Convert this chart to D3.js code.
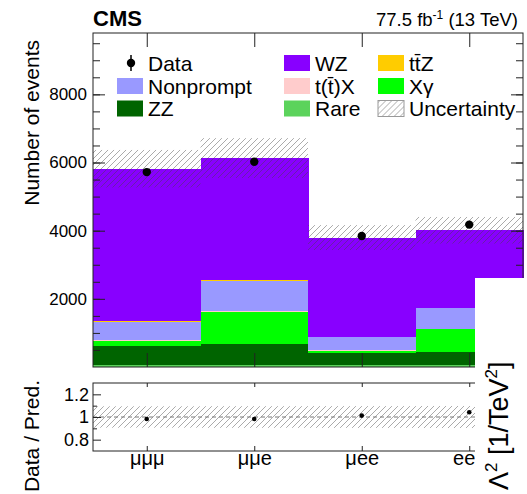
<!DOCTYPE html>
<html>
<head>
<meta charset="utf-8">
<script src="https://cdn.jsdelivr.net/npm/d3@7"></script>
<style>
  body { margin: 0; background: #fff; }
  svg text { font-family: "Liberation Sans", Helvetica, Arial, sans-serif; fill: #000; }
</style>
</head>
<body>
<script>
// channel categories
const channels = ["μμμ", "μμe", "μee", "eee"];

// expected yields per process, per channel (stacked bottom -> top)
const rare      = [50, 50, 50, 50];
const zz        = [574, 623, 375, 398];
const xgamma    = [130, 947, 45, 656];
const ttx       = [35, 20, 25, 16];
const nonprompt = [530, 878, 375, 599];
const ttz       = [35, 30, 20, 18];
const wz        = [4464, 3582, 2908, 2275];

// observed data and total uncertainty on the prediction
const dataObs  = [5719, 6023, 3845, 4178];
const totalUnc = [550, 585, 365, 390];

const yMajor = [2000, 4000, 6000, 8000];
const yMinor = d3.range(500, 10000, 500);
const rMajor = [0.8, 1, 1.2];
const rMinor = [0.9, 1.1];

// legend, read row by row
const legendNames = ["Data", "WZ", "tt\u0304Z", "Nonprompt", "t(t\u0304)X", "Xγ", "ZZ", "Rare", "Uncertainty"];

const colors = {
  "Rare": "#5cd35c", "ZZ": "#006400", "Xγ": "#00ff00", "t(t\u0304)X": "#ffcccc",
  "Nonprompt": "#9999ff", "tt\u0304Z": "#ffcc00", "WZ": "#8800ff"
};
const stackKeys = ["Rare", "ZZ", "Xγ", "t(t\u0304)X", "Nonprompt", "tt\u0304Z", "WZ"];
const series = [rare, zz, xgamma, ttx, nonprompt, ttz, wz];

const table = channels.map((c, i) => {
  const row = {channel: c};
  stackKeys.forEach((k, j) => row[k] = series[j][i]);
  return row;
});
const totals = table.map(r => d3.sum(stackKeys, k => r[k]));

const W = 527, H = 494;
const plotL = 93, plotR = 523, plotT = 33, mainB = 367;
const ratioT = 383, ratioB = 451;

const svg = d3.select("body").append("svg").attr("width", W).attr("height", H);

const defs = svg.append("defs");
const pat = defs.append("pattern").attr("id", "hatch")
  .attr("patternUnits", "userSpaceOnUse").attr("width", 6).attr("height", 6);
pat.append("path").attr("d", "M-1,1 l2,-2 M0,6 l6,-6 M5,7 l2,-2")
  .attr("stroke", "#444").attr("stroke-opacity", 0.5).attr("stroke-width", 0.9);

const x = d3.scaleBand().domain(channels).range([plotL, plotR]).padding(0);
const y = d3.scaleLinear().domain([0, 9800]).range([mainB, plotT]);
const yr = d3.scaleLinear().domain([0.7, 1.3]).range([ratioB, ratioT]);

// stacked histogram
const stacked = d3.stack().keys(stackKeys)(table);
svg.append("g").attr("shape-rendering", "crispEdges")
  .selectAll("g").data(stacked).join("g")
  .attr("fill", d => colors[d.key])
  .selectAll("rect").data(d => d).join("rect")
  .attr("x", d => x(d.data.channel))
  .attr("width", x.bandwidth() + 0.5)
  .attr("y", d => y(d[1]))
  .attr("height", d => Math.max(0, y(d[0]) - y(d[1])));

// uncertainty band
svg.append("g").selectAll("rect").data(channels).join("rect")
  .attr("x", d => x(d)).attr("width", x.bandwidth())
  .attr("y", (d, i) => y(totals[i] + totalUnc[i]))
  .attr("height", (d, i) => y(totals[i] - totalUnc[i]) - y(totals[i] + totalUnc[i]))
  .attr("fill", "url(#hatch)");

// data points
const pts = svg.append("g");
pts.selectAll("line").data(channels).join("line")
  .attr("x1", d => x(d) + x.bandwidth() / 2).attr("x2", d => x(d) + x.bandwidth() / 2)
  .attr("y1", (d, i) => y(dataObs[i] - Math.sqrt(dataObs[i])))
  .attr("y2", (d, i) => y(dataObs[i] + Math.sqrt(dataObs[i])))
  .attr("stroke", "#000").attr("stroke-width", 1.5);
pts.selectAll("circle").data(channels).join("circle")
  .attr("cx", d => x(d) + x.bandwidth() / 2)
  .attr("cy", (d, i) => y(dataObs[i]))
  .attr("r", 4.2).attr("fill", "#000");

// main axes (ROOT style, ticks inside)
const mainAxes = svg.append("g");
mainAxes.append("g").attr("transform", `translate(${plotL},0)`)
  .call(d3.axisLeft(y).tickValues(yMinor).tickSize(-7).tickFormat(""));
mainAxes.append("g").attr("transform", `translate(${plotL},0)`)
  .call(d3.axisLeft(y).tickValues(yMajor).tickSize(-12).tickPadding(6).tickFormat(d3.format("d")));
mainAxes.append("g").attr("transform", `translate(${plotR},0)`)
  .call(d3.axisRight(y).tickValues(yMinor).tickSize(-7).tickFormat(""));
mainAxes.append("g").attr("transform", `translate(${plotR},0)`)
  .call(d3.axisRight(y).tickValues(yMajor).tickSize(-12).tickFormat(""));
const xc = d3.scalePoint().domain(channels).range([plotL + x.bandwidth() / 2, plotR - x.bandwidth() / 2]);
mainAxes.append("g").attr("transform", `translate(0,${mainB})`)
  .call(d3.axisBottom(xc).tickSize(-14).tickFormat(""));
mainAxes.append("g").attr("transform", `translate(0,${plotT})`)
  .call(d3.axisTop(xc).tickSize(-14).tickFormat(""));
mainAxes.selectAll(".domain").remove();
mainAxes.selectAll("line").attr("stroke", "#222");
mainAxes.selectAll("text").attr("font-size", 17).attr("fill", "#000");
svg.append("rect").attr("x", plotL).attr("y", plotT)
  .attr("width", plotR - plotL).attr("height", mainB - plotT)
  .attr("fill", "none").attr("stroke", "#222").attr("stroke-width", 1);

// ratio panel
svg.append("g").selectAll("rect").data(channels).join("rect")
  .attr("x", d => x(d)).attr("width", x.bandwidth())
  .attr("y", (d, i) => yr(1 + totalUnc[i] / totals[i]))
  .attr("height", (d, i) => yr(1 - totalUnc[i] / totals[i]) - yr(1 + totalUnc[i] / totals[i]))
  .attr("fill", "url(#hatch)");
svg.append("line").attr("x1", plotL).attr("x2", plotR)
  .attr("y1", yr(1)).attr("y2", yr(1))
  .attr("stroke", "#777").attr("stroke-dasharray", "4,3").attr("stroke-width", 1);
svg.append("g").selectAll("circle").data(channels).join("circle")
  .attr("cx", d => xc(d))
  .attr("cy", (d, i) => yr(dataObs[i] / totals[i]))
  .attr("r", 2.3).attr("fill", "#000");

const ratioAxes = svg.append("g");
ratioAxes.append("g").attr("transform", `translate(${plotL},0)`)
  .call(d3.axisLeft(yr).tickValues(rMinor).tickSize(-4).tickFormat(""));
ratioAxes.append("g").attr("transform", `translate(${plotL},0)`)
  .call(d3.axisLeft(yr).tickValues(rMajor).tickSize(-8).tickPadding(4).tickFormat(d => d === 1 ? "1" : d3.format(".1f")(d)));
ratioAxes.append("g").attr("transform", `translate(${plotR},0)`)
  .call(d3.axisRight(yr).tickValues(rMajor).tickSize(-8).tickFormat(""));
ratioAxes.append("g").attr("transform", `translate(0,${ratioB})`)
  .call(d3.axisBottom(xc).tickSize(-5).tickPadding(0));
ratioAxes.append("g").attr("transform", `translate(0,${ratioT})`)
  .call(d3.axisTop(xc).tickSize(-4).tickFormat(""));
ratioAxes.selectAll(".domain").remove();
ratioAxes.selectAll("line").attr("stroke", "#222");
ratioAxes.selectAll("text").attr("font-size", 18).attr("fill", "#000");
ratioAxes.selectAll(".tick text").filter(d => typeof d === "string").attr("font-size", 20);
svg.append("rect").attr("x", plotL).attr("y", ratioT)
  .attr("width", plotR - plotL).attr("height", ratioB - ratioT)
  .attr("fill", "none").attr("stroke", "#222").attr("stroke-width", 1);

// axis titles
svg.append("text").attr("transform", "translate(39,40) rotate(-90)")
  .attr("text-anchor", "end").attr("font-size", 21).text("Number of events");
svg.append("text").attr("transform", "translate(39,380) rotate(-90)")
  .attr("text-anchor", "end").attr("font-size", 21).text("Data / Pred.");

// header
svg.append("text").attr("x", 93).attr("y", 26).attr("font-size", 22)
  .attr("font-weight", "bold").text("CMS");
const lumi = svg.append("text").attr("x", 518).attr("y", 26)
  .attr("text-anchor", "end").attr("font-size", 18.5);
lumi.append("tspan").text("77.5 fb");
lumi.append("tspan").attr("font-size", 12).attr("dy", -7).text("-1");
lumi.append("tspan").attr("dy", 7).text(" (13 TeV)");

// legend
const colX = [117, 284, 378], rowY = [63, 86, 108.5];
const leg = svg.append("g").selectAll("g").data(legendNames).join("g")
  .attr("transform", (d, i) => `translate(${colX[i % 3]},${rowY[Math.floor(i / 3)]})`);
leg.each(function(d) {
  const g = d3.select(this);
  if (d === "Data") {
    g.append("line").attr("x1", 14).attr("x2", 14).attr("y1", -8).attr("y2", 8)
      .attr("stroke", "#000").attr("stroke-width", 1.5);
    g.append("circle").attr("cx", 14).attr("cy", 0).attr("r", 4.2).attr("fill", "#000");
  } else if (d === "Uncertainty") {
    g.append("rect").attr("x", 0).attr("y", -8).attr("width", 26).attr("height", 16)
      .attr("fill", "url(#hatch)").attr("stroke", "#999").attr("stroke-width", 1);
  } else {
    g.append("rect").attr("x", 0).attr("y", -8).attr("width", 26).attr("height", 16)
      .attr("fill", colors[d]);
  }
  g.append("text").attr("x", 31).attr("y", 7.5).attr("font-size", 21).text(d);
});

// white overlay box with the stray coupling label
svg.append("rect").attr("x", 475).attr("y", 278).attr("width", 52).attr("height", 216)
  .attr("fill", "#fff");
const lam = svg.append("text").attr("transform", "translate(508,490) rotate(-90)")
  .attr("font-size", 27);
lam.append("tspan").text("Λ");
lam.append("tspan").attr("font-size", 17).attr("dy", -11).text("2");
lam.append("tspan").attr("dy", 11).text(" [1/TeV");
lam.append("tspan").attr("font-size", 17).attr("dy", -11).text("2");
lam.append("tspan").attr("dy", 11).text("]");
</script>
</body>
</html>
